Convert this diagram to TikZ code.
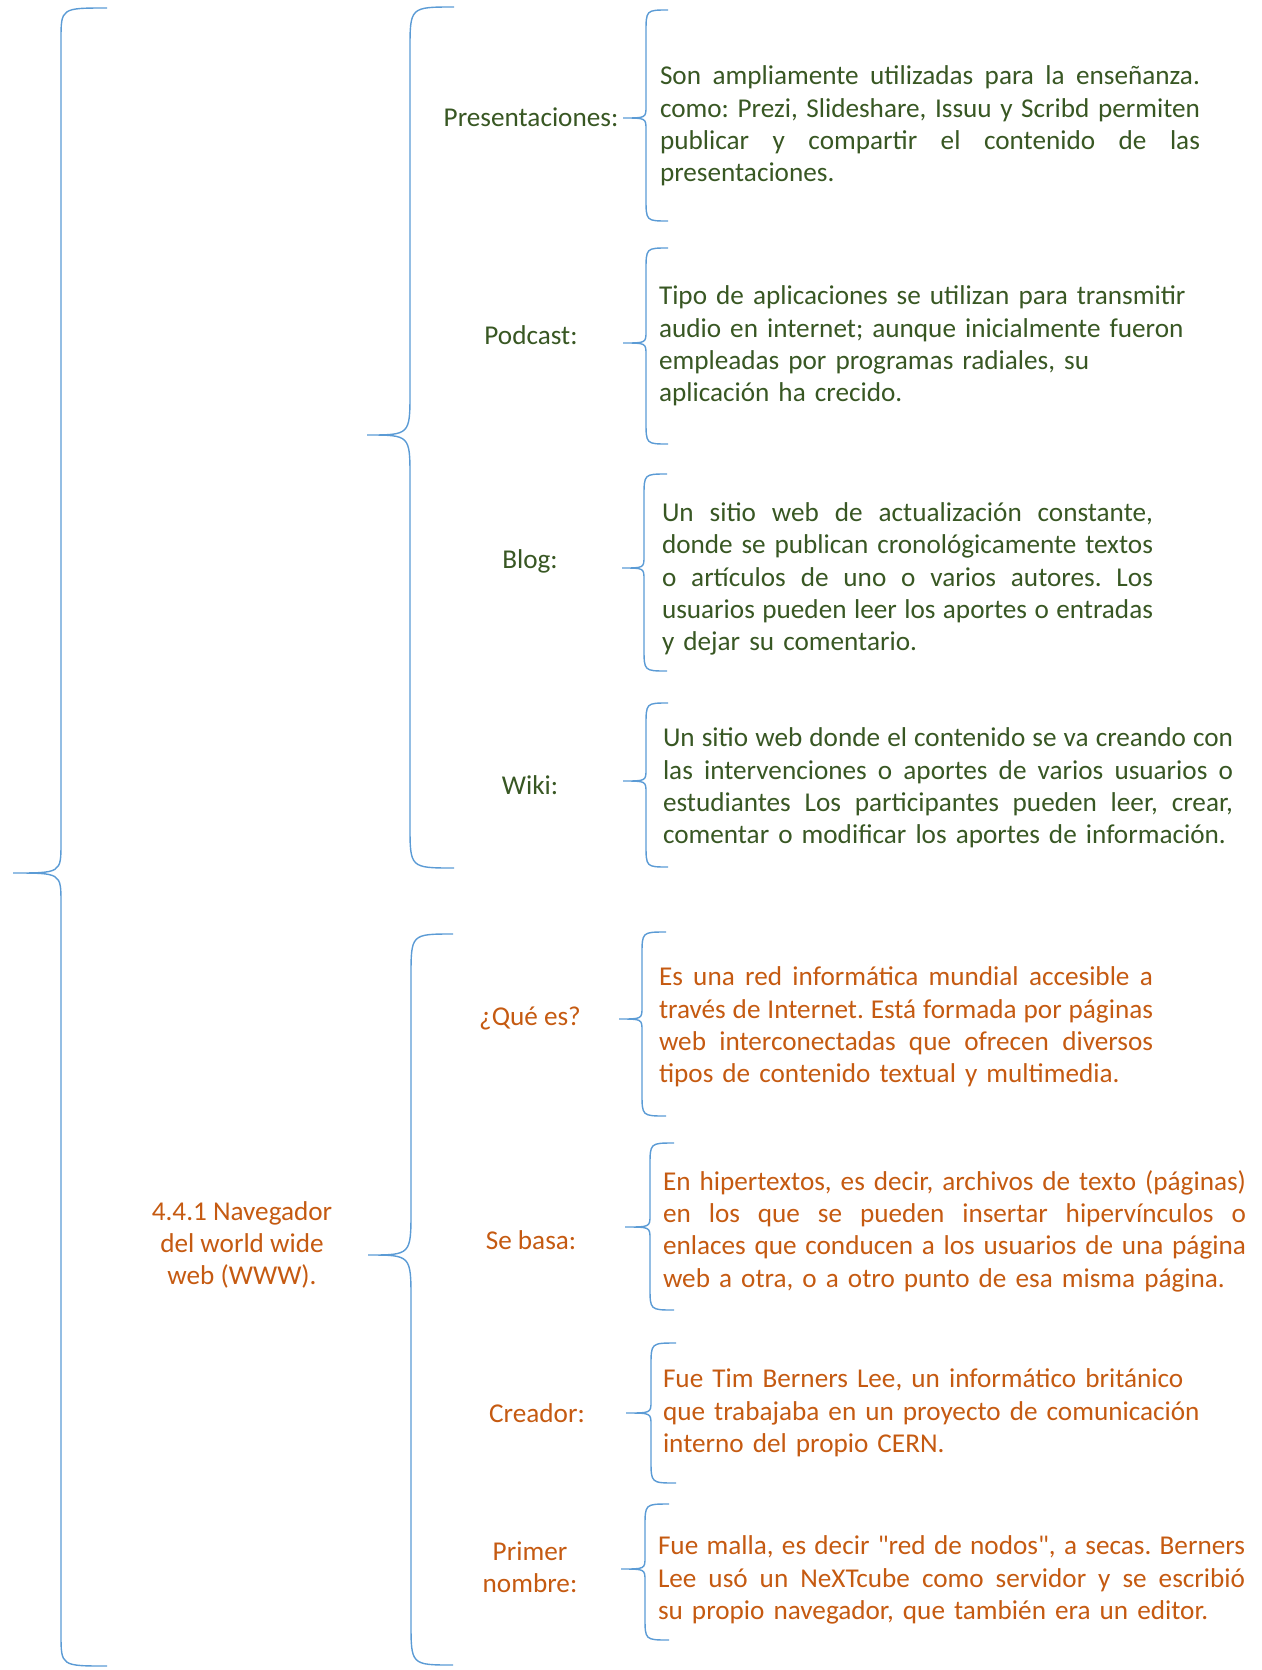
\documentclass[tikz,border=0pt]{standalone}
\usepackage{fontspec}
\setmainfont{Carlito}
\usepackage{tikz}
\usetikzlibrary{positioning}
\definecolor{leaf}{HTML}{385723}
\definecolor{rust}{HTML}{C55A11}
\definecolor{sky}{HTML}{5B9BD5}
% tip x, tip y, line x, end x, top y, bottom y, corner, middle
\newcommand{\curly}[8]{%
  \draw[brace] (#4,#5) .. controls (#3,#5) .. (#3,#5+#7) -- (#3,#2-#8)
    .. controls (#3,#2) .. (#1,#2) .. controls (#3,#2) .. (#3,#2+#8)
    -- (#3,#6-#7) .. controls (#3,#6) .. (#4,#6);}
% justified line of a given width
\newcommand{\jline}[2]{\leavevmode{\spaceskip=0.226em plus 1.5em minus 0.08em\hbox to #1{#2}}}
\frenchspacing

\begin{document}
\begin{tikzpicture}[x=0.5pt,y=-0.5pt,inner sep=0pt,outer sep=0pt]
        \tikzset{brace/.style={draw=sky,line width=0.7pt}}
        \tikzset{label/.style={align=center,font=\fontsize{13.6}{16.2}\selectfont}}
        \tikzset{body/.style={anchor=west,align=left,font=\fontsize{13.6}{16.2}\selectfont}}
        \useasboundingbox (0,0) rectangle (1262,1670);

        % big braces
        \curly{13}{873}{61}{107}{8}{1666}{32}{30}
        \curly{367}{435}{410}{454}{7}{868}{43}{43}
        \curly{368}{1255}{411}{453}{934}{1665}{43}{45}

        % web 2.0 tools
        \node [label,text=leaf] (pres) at (531,117) {Presentaciones:};
        \node [label,text=leaf] (podcast) at (531,335) {Podcast:};
        \node [label,text=leaf] (blog) at (530,561) {Blog:};
        \node [label,text=leaf] (wiki) at (530,785) {Wiki:};

        \curly{623}{118}{646}{668}{10}{221}{23}{12}
        \curly{623}{343}{646}{668}{248}{444}{23}{12}
        \curly{622}{568}{644}{667}{474}{671}{23}{12}
        \curly{623}{781}{646}{668}{703}{867}{23}{12}

        \node [body,text=leaf,text width=270pt] (prestext) at (660,126) {%
            \jline{270pt}{Son ampliamente utilizadas para la enseñanza.}\\
            \jline{270pt}{como: Prezi, Slideshare, Issuu y Scribd permiten}\\
            \jline{270pt}{publicar y compartir el contenido de las}\\
            presentaciones.};
        \node [body,text=leaf,text width=270pt] (podtext) at (659,346) {%
            Tipo de aplicaciones se utilizan para transmitir\\
            audio en internet; aunque inicialmente fueron\\
            empleadas por programas radiales, su\\
            aplicación ha crecido.};
        \node [body,text=leaf,text width=245.5pt] (blogtext) at (662,579) {%
            \jline{245.5pt}{Un sitio web de actualización constante,}\\
            \jline{245.5pt}{donde se publican cronológicamente textos}\\
            \jline{245.5pt}{o artículos de uno o varios autores. Los}\\
            \jline{245.5pt}{usuarios pueden leer los aportes o entradas}\\
            y dejar su comentario.};
        \node [body,text=leaf,text width=285pt] (wikitext) at (663,788) {%
            \jline{285pt}{Un sitio web donde el contenido se va creando con}\\
            \jline{285pt}{las intervenciones o aportes de varios usuarios o}\\
            \jline{285pt}{estudiantes Los participantes pueden leer, crear,}\\
            comentar o modificar los aportes de información.};

        % www
        \node [label,text=rust] (www) at (242,1245) {4.4.1 Navegador\\del world wide\\web (WWW).};

        \node [label,text=rust] (que) at (530,1018) {¿Qué es?};
        \node [label,text=rust] (basa) at (531,1240) {Se basa:};
        \node [label,text=rust] (creador) at (537,1413) {Creador:};
        \node [label,text=rust] (primer) at (530,1567) {Primer\\nombre:};

        \curly{619}{1019}{642}{666}{932}{1116}{23}{12}
        \curly{625}{1227}{650}{674}{1143}{1310}{23}{12}
        \curly{626}{1413}{651}{676}{1343}{1483}{23}{12}
        \curly{621}{1569}{645}{669}{1504}{1640}{23}{12}

        \node [body,text=rust,text width=247pt] (quetext) at (659,1027) {%
            \jline{247pt}{Es una red informática mundial accesible a}\\
            \jline{247pt}{través de Internet. Está formada por páginas}\\
            \jline{247pt}{web interconectadas que ofrecen diversos}\\
            tipos de contenido textual y multimedia.};
        \node [body,text=rust,text width=291.5pt] (basatext) at (663,1231) {%
            \jline{291.5pt}{En hipertextos, es decir, archivos de texto (páginas)}\\
            \jline{291.5pt}{en los que se pueden insertar hipervínculos o}\\
            \jline{291.5pt}{enlaces que conducen a los usuarios de una página}\\
            web a otra, o a otro punto de esa misma página.};
        \node [body,text=rust,text width=270pt] (creadortext) at (663,1413) {%
            Fue Tim Berners Lee, un informático británico\\
            que trabajaba en un proyecto de comunicación\\
            interno del propio CERN.};
        \node [body,text=rust,text width=293.5pt] (primertext) at (658,1580) {%
            \jline{293.5pt}{Fue malla, es decir \textquotedbl red de nodos\textquotedbl, a secas. Berners}\\
            \jline{293.5pt}{Lee usó un NeXTcube como servidor y se escribió}\\
            su propio navegador, que también era un editor.};
\end{tikzpicture}
\end{document}
